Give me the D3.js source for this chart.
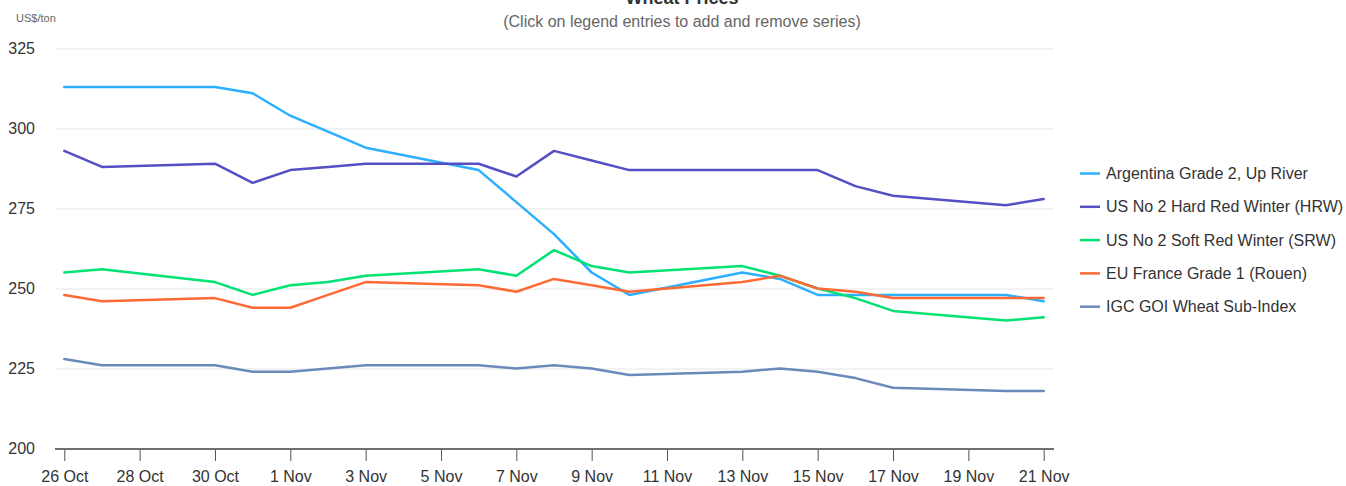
<!DOCTYPE html>
<html>
	<head>
		<meta charset="utf-8">
		<title>Wheat Prices</title>
		<script src="https://cdnjs.cloudflare.com/ajax/libs/d3/7.8.5/d3.min.js"></script>
		<style>
			body { margin:0; background:#fff; }
			svg { font-family:"Liberation Sans", Arial, sans-serif; }
		</style>
	</head>
	<body>
		<svg id="chart" width="1346" height="486"></svg>
		<script>
			// trading days, Oct-Nov 2017
			var dates = ['2017-10-26','2017-10-27','2017-10-30','2017-10-31','2017-11-01','2017-11-02','2017-11-03',
				'2017-11-06','2017-11-07','2017-11-08','2017-11-09','2017-11-10','2017-11-13','2017-11-14',
				'2017-11-15','2017-11-16','2017-11-17','2017-11-20','2017-11-21'];

			var seriesNames = ['Argentina Grade 2, Up River', 'US No 2 Hard Red Winter (HRW)',
				'US No 2 Soft Red Winter (SRW)', 'EU France Grade 1 (Rouen)', 'IGC GOI Wheat Sub-Index'];
			var colors = ['#2caffe', '#544fc5', '#00e272', '#fe6a35', '#6b8abc'];

			var argentina = [313,313,313,311,304,299,294,287,277,267,255,248,255,253,248,248,248,248,246];
			var hrw       = [293,288,289,283,287,288,289,289,285,293,290,287,287,287,287,282,279,276,278];
			var srw       = [255,256,252,248,251,252,254,256,254,262,257,255,257,254,250,247,243,240,241];
			var euFrance  = [248,246,247,244,244,248,252,251,249,253,251,249,252,254,250,249,247,247,247];
			var igcGoi    = [228,226,226,224,224,225,226,226,225,226,225,223,224,225,224,222,219,218,218];

			var tickDates = ['2017-10-26','2017-10-28','2017-10-30','2017-11-01','2017-11-03','2017-11-05','2017-11-07',
				'2017-11-09','2017-11-11','2017-11-13','2017-11-15','2017-11-17','2017-11-19','2017-11-21'];
			var yTicks = [200, 225, 250, 275, 300, 325];

			var parse = d3.timeParse('%Y-%m-%d'),
				svg = d3.select('#chart'),
				allSeries = [argentina, hrw, srw, euFrance, igcGoi];

			var x = d3.scaleTime()
				.domain([parse(dates[0]), parse(dates[dates.length-1])])
				.range([64.3, 1043.7]);
			var y = d3.scaleLinear()
				.domain([200, 325])
				.range([448.5, 48.5]);

			// title (pushed partly off the top, as in the screenshot)
			svg.append('text')
				.attr('x', 682).attr('y', 4)
				.attr('text-anchor', 'middle')
				.attr('font-size', 18).attr('font-weight', 'bold')
				.attr('fill', '#333')
				.text('Wheat Prices');
			svg.append('text')
				.attr('x', 682).attr('y', 27)
				.attr('text-anchor', 'middle')
				.attr('font-size', 16)
				.attr('fill', '#666')
				.text('(Click on legend entries to add and remove series)');

			// unit label
			svg.append('text')
				.attr('x', 16).attr('y', 22)
				.attr('font-size', 11)
				.attr('fill', '#666')
				.text('US$/ton');

			// gridlines + y labels
			var yAxis = svg.append('g')
				.attr('transform', 'translate(55,0)')
				.call(d3.axisLeft(y).tickValues(yTicks).tickSize(-999).tickPadding(20).tickFormat(d3.format('d')));
			yAxis.select('.domain').remove();
			yAxis.selectAll('.tick line').attr('stroke', '#e6e6e6');
			yAxis.selectAll('.tick text')
				.attr('font-size', 16).attr('fill', '#333')
				.attr('font-family', '"Liberation Sans", Arial, sans-serif');

			// x axis
			var xAxis = svg.append('g')
				.attr('transform', 'translate(0,449)')
				.call(d3.axisBottom(x).tickValues(tickDates.map(parse)).tickSize(12).tickPadding(10)
					.tickFormat(d3.timeFormat('%-d %b')));
			xAxis.select('.domain').remove();
			xAxis.append('line')
				.attr('x1', 55).attr('x2', 1054)
				.attr('stroke', '#707070').attr('stroke-width', 2);
			xAxis.selectAll('.tick line').attr('stroke', '#555');
			xAxis.selectAll('.tick text')
				.attr('font-size', 16).attr('fill', '#333')
				.attr('font-family', '"Liberation Sans", Arial, sans-serif');

			// lines
			var line = d3.line()
				.x(function(d, i) { return x(parse(dates[i])); })
				.y(function(d) { return y(d); });
			svg.append('g').selectAll('path')
				.data(allSeries)
				.enter()
				.append('path')
				.attr('d', line)
				.attr('fill', 'none')
				.attr('stroke', function(d, i) { return colors[i]; })
				.attr('stroke-width', 2.5)
				.attr('stroke-linejoin', 'round')
				.attr('stroke-linecap', 'round');

			// legend
			var legend = svg.append('g').selectAll('g')
				.data(seriesNames)
				.enter()
				.append('g')
				.attr('transform', function(d, i) { return 'translate(1080,' + (173.5 + i*33.3) + ')'; });
			legend.append('line')
				.attr('x1', 0).attr('x2', 20)
				.attr('stroke', function(d, i) { return colors[i]; })
				.attr('stroke-width', 2.5);
			legend.append('text')
				.attr('x', 26).attr('dy', '0.35em')
				.attr('font-size', 16)
				.attr('fill', '#333')
				.text(function(d) { return d; });
		</script>
	</body>
</html>
